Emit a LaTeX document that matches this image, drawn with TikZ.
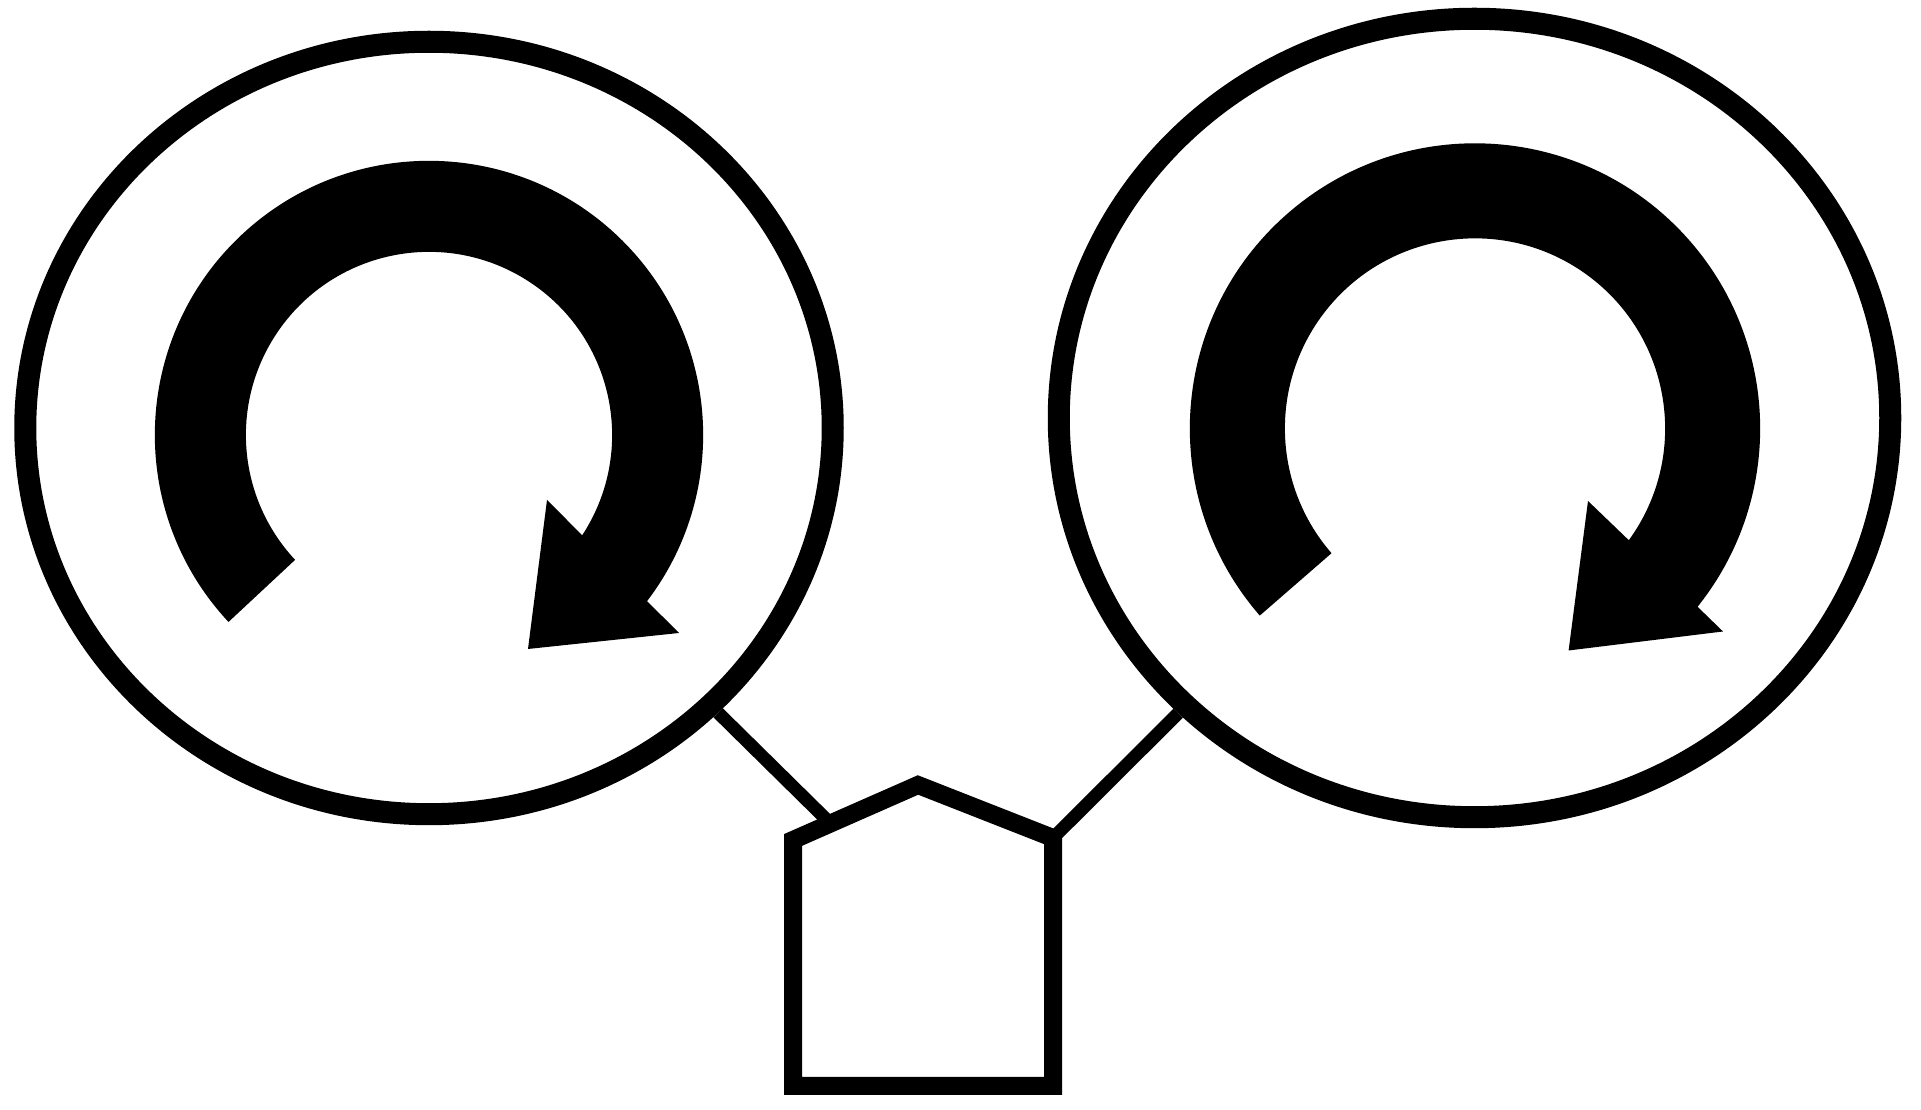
\documentclass[tikz,border=0pt]{standalone}
\usetikzlibrary{shapes.geometric,calc}
\begin{document}
\begin{tikzpicture}[x=0.01cm,y=0.01cm,
  ring/.style={ellipse, draw=black, line width=0.22cm, fill=white, inner sep=0pt},
  link/.style={draw=black, line width=0.13cm},
  house/.style={draw=black, fill=white, line width=0.18cm, line join=miter},
  turn/.style={fill=black}]
\fill[white] (0,0) rectangle (1921,1110);
\useasboundingbox (0,0) rectangle (1921,1110);
% circles
\node[ring, minimum width=8.07cm, minimum height=7.72cm] (circL) at (429,682) {};
\node[ring, minimum width=8.31cm, minimum height=7.98cm] (circR) at (1474.5,692) {};
% pentagon corners
\coordinate (bl) at (793,24);
\coordinate (br) at (1053,24);
\coordinate (tr) at (1053,272);
\coordinate (apex) at (918,325);
\coordinate (tl) at (793,270);
\coordinate (jL) at (831,286);
% connectors
\draw[link] (circL) -- (jL);
\draw[link] (circR) -- (tr);
% pentagon
\draw[house] (bl) -- (br) -- (tr) -- (apex) -- (tl) -- cycle;
% left rotation arrow
\coordinate (cL) at (429,675);
\fill[turn] ($(cL)+(223:2.74cm)$) arc[start angle=223, end angle=-37.3, radius=2.74cm]
  -- (679,477) -- (528,461) -- (547,610)
  -- ($(cL)+(-33.2:1.83cm)$) arc[start angle=-33.2, end angle=223, radius=1.83cm] -- cycle;
% right rotation arrow
\coordinate (cR) at (1475,681.5);
\fill[turn] ($(cR)+(221:2.85cm)$) arc[start angle=221, end angle=-38.7, radius=2.85cm]
  -- (1723,478.5) -- (1568.6,459.5) -- (1588,609)
  -- ($(cR)+(-36:1.90cm)$) arc[start angle=-36, end angle=221, radius=1.90cm] -- cycle;
\end{tikzpicture}
\end{document}
